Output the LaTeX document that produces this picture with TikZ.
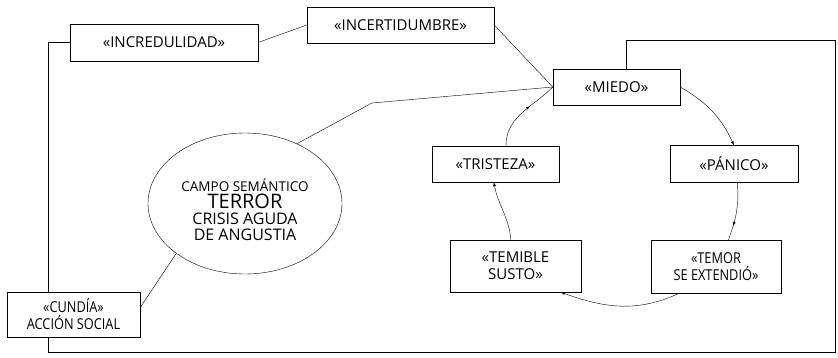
\documentclass[tikz,border=0pt]{standalone}
\usepackage{fontspec}
\setmainfont{Open Sans}
\usetikzlibrary{shapes.geometric}
\usetikzlibrary{calc}
\usetikzlibrary{arrows}
\usetikzlibrary{decorations.markings}

\newcommand{\narrow}[1]{\scalebox{0.85}[1]{#1}}

\begin{document}
\begin{tikzpicture}[x=1pt,y=1pt,
  box/.style={draw, fill=white, inner sep=0pt, align=center,
    font=\fontsize{15}{17}\selectfont},
  cycle/.style={-latex, thin},
  midtip/.style={thin, postaction={decorate},
    decoration={markings, mark=at position #1 with {\arrow{latex}}}}]
  \useasboundingbox (0,0) rectangle (838,357);

  \node [box, minimum width=188, minimum height=37] (incred) at (164,314.5) {«INCREDULIDAD»};
  \node [box, minimum width=187, minimum height=36] (incert) at (400.5,332) {«INCERTIDUMBRE»};
  \node [box, minimum width=127, minimum height=36] (miedo) at (616.5,270) {«MIEDO»};
  \node [box, minimum width=128, minimum height=37] (panico) at (734,193) {«PÁNICO»};
  \node [box, minimum width=127, minimum height=36] (tristeza) at (495.5,193) {«TRISTEZA»};
  \node [box, minimum width=131, minimum height=52] (temible) at (515.5,91) {«TEMIBLE\\SUSTO»};
  \node [box, minimum width=130, minimum height=53] (temor) at (716,90.5)
    {\narrow{«TEMOR}\\\narrow{SE EXTENDIÓ»}};
  \node [box, minimum width=133, minimum height=45] (cundia) at (73.5,42.5)
    {\narrow{«CUNDÍA»}\\\narrow{ACCIÓN SOCIAL}};
  \node [draw, ellipse, minimum width=194, minimum height=141] (terror) at (245,153.5) {};
  \node [align=center, font=\fontsize{16}{16}\selectfont] (terrortext) at ($(terror)+(0,-6)$)
    {{\fontsize{13.5}{16}\selectfont CAMPO SEMÁNTICO}\\[1pt]
     {\fontsize{20}{16}\selectfont TERROR}\\
     CRISIS AGUDA\\
     DE ANGUSTIA};

  \coordinate (lt) at (48,314.5);
  \coordinate (lb) at (48,5);
  \coordinate (rb) at (835,5);
  \coordinate (rt) at (835,317);
  \coordinate (mt) at (626,317);
  \coordinate (bend) at (372,254);

  % frame round the whole chart
  \draw (incred.west) -- (lt) -- (lt |- cundia.north);
  \draw (lt |- cundia.south) -- (lb) -- (rb) -- (rt) -- (mt) -- (mt |- miedo.north);

  \draw (incred.east) -- (incert.west);
  \draw (incert.east) -- (miedo.west);
  \draw (terror.49) -- (bend) -- (miedo.west);
  \draw (cundia.6) -- (terror.216);

  \draw [cycle] (miedo.east) to [out=-30, in=115] (panico.north);
  \draw [midtip=0.75] (panico.-80) to [out=-85, in=70] (temor.65);
  \draw [cycle] (temor.-144) to [out=-155, in=-20] (temible.-30);
  \draw [cycle] (temible.100) to [out=95, in=-80] (tristeza.-95);
  \draw [midtip=0.62] (tristeza.60) to [out=90, in=-135] (miedo.west);
\end{tikzpicture}
\end{document}
